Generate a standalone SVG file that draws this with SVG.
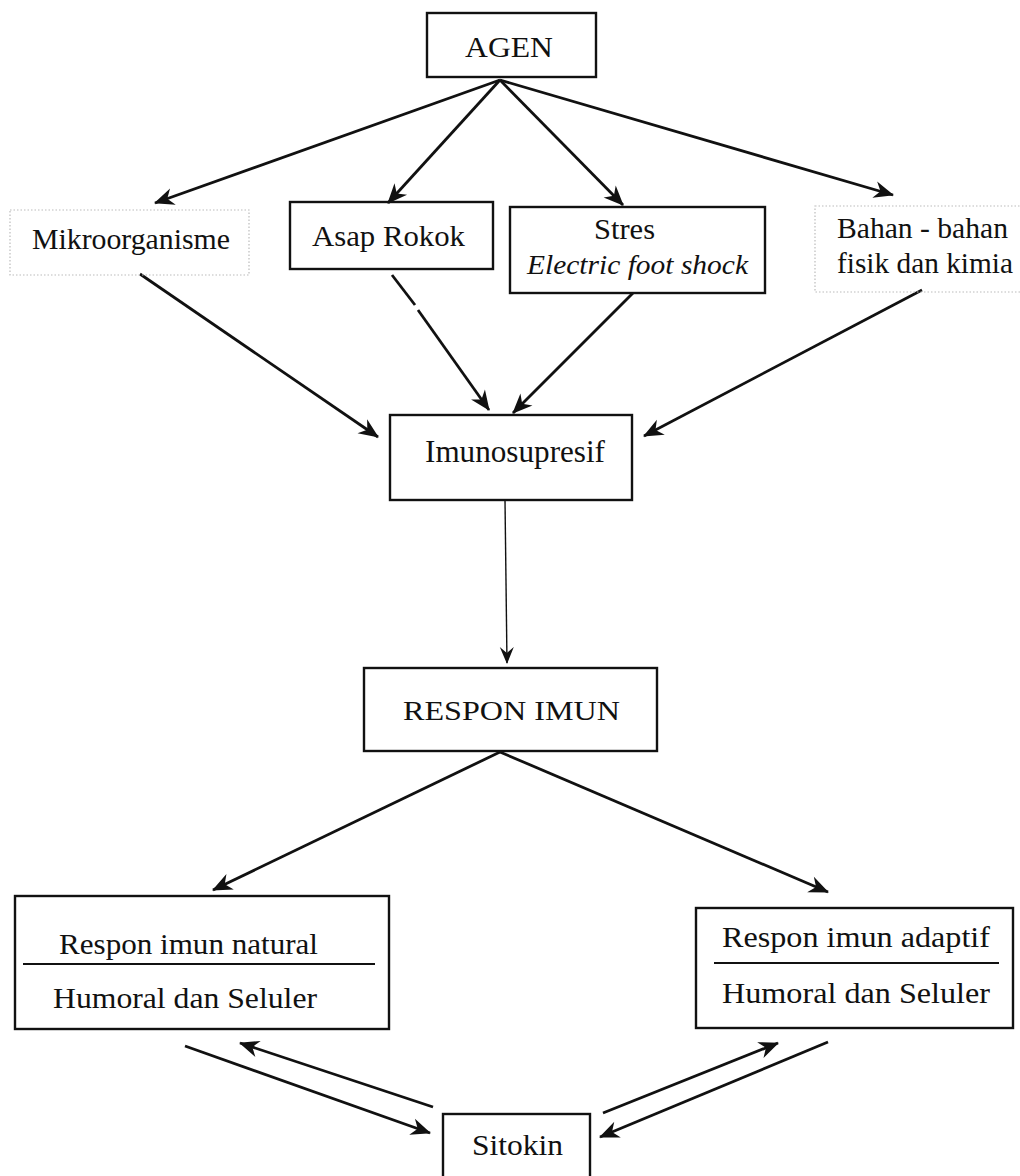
<svg xmlns="http://www.w3.org/2000/svg" width="1020" height="1176" viewBox="0 0 1020 1176">
<style>
.box{fill:none;stroke:#111;stroke-width:2.4}
.dot{fill:none;stroke:#bbb;stroke-width:1.2;stroke-dasharray:1.5 2}
.t{font-family:"Times New Roman","Liberation Serif",Tinos,Times,serif;font-size:30px;fill:#111}
.c{stroke:#111;stroke-width:2.8;fill:none;marker-end:url(#ah)}
.thin{stroke:#111;stroke-width:1.4;fill:none;marker-end:url(#ahs)}
</style>
<defs>
<marker id="ah" viewBox="-22 -11 24 22" refX="0" refY="0" markerWidth="24" markerHeight="22" markerUnits="userSpaceOnUse" orient="auto">
<path d="M1,0 L-19,-8.5 L-13,0 L-19,8.5 Z" fill="#111"/>
</marker>
<marker id="ahs" viewBox="-20 -10 22 20" refX="0" refY="0" markerWidth="22" markerHeight="20" markerUnits="userSpaceOnUse" orient="auto">
<path d="M1,0 L-16,-7 L-10,0 L-16,7 Z" fill="#111"/>
</marker>
</defs>
<rect width="1020" height="1176" fill="#fff"/>
<g id="connectors">
<line class="c" x1="500" y1="80" x2="155" y2="203"/>
<line class="c" x1="500" y1="80" x2="388" y2="203"/>
<line class="c" x1="500" y1="80" x2="623" y2="205"/>
<line class="c" x1="500" y1="80" x2="893" y2="195"/>
<line class="c" x1="140" y1="274" x2="378" y2="437"/>
<line stroke="#111" stroke-width="2.8" x1="392" y1="275" x2="415" y2="305"/>
<line class="c" x1="418" y1="310" x2="489" y2="410"/>
<line class="c" x1="633" y1="293" x2="513" y2="413"/>
<line class="c" x1="922" y1="290" x2="644" y2="436"/>
<line class="thin" x1="505" y1="500" x2="507" y2="663"/>
<line class="c" x1="500" y1="752" x2="213" y2="890"/>
<line class="c" x1="500" y1="752" x2="828" y2="892"/>
<line class="c" x1="185" y1="1046" x2="430" y2="1133"/>
<line class="c" x1="433" y1="1107" x2="240" y2="1043"/>
<line class="c" x1="603" y1="1113" x2="778" y2="1043"/>
<line class="c" x1="828" y1="1042" x2="600" y2="1137"/>
</g>
<g id="agen">
<rect class="box" x="427" y="13" width="169" height="64"/>
<text class="t" x="465" y="57" textLength="88" lengthAdjust="spacingAndGlyphs">AGEN</text>
</g>
<g id="mikroorganisme">
<rect class="dot" x="10" y="210" width="239" height="65"/>
<text class="t" x="32" y="249" textLength="198" lengthAdjust="spacingAndGlyphs">Mikroorganisme</text>
</g>
<g id="asap-rokok">
<rect class="box" x="290" y="202" width="203" height="67"/>
<text class="t" x="312" y="246" textLength="153" lengthAdjust="spacingAndGlyphs">Asap Rokok</text>
</g>
<g id="stres">
<rect class="box" x="510" y="207" width="255" height="86"/>
<text class="t" x="594" y="239" textLength="61" lengthAdjust="spacingAndGlyphs">Stres</text>
<text class="t" x="527" y="274" font-style="italic" style="font-size:27px" textLength="221" lengthAdjust="spacingAndGlyphs">Electric foot shock</text>
</g>
<g id="bahan">
<rect class="dot" x="815" y="206" width="210" height="86"/>
<text class="t" x="837" y="238" textLength="171" lengthAdjust="spacingAndGlyphs">Bahan - bahan</text>
<text class="t" x="837" y="273" textLength="176" lengthAdjust="spacingAndGlyphs">fisik dan kimia</text>
</g>
<g id="imunosupresif">
<rect class="box" x="390" y="415" width="242" height="85"/>
<text class="t" x="425" y="462" style="font-size:31px" textLength="180" lengthAdjust="spacingAndGlyphs">Imunosupresif</text>
</g>
<g id="respon-imun">
<rect class="box" x="364" y="668" width="293" height="83"/>
<text class="t" x="403" y="720" style="font-size:27px" textLength="217" lengthAdjust="spacingAndGlyphs">RESPON IMUN</text>
</g>
<g id="respon-natural">
<rect class="box" x="15" y="896" width="374" height="133"/>
<line stroke="#111" stroke-width="2.2" x1="23" y1="964" x2="375" y2="964"/>
<text class="t" x="59" y="954" textLength="259" lengthAdjust="spacingAndGlyphs">Respon imun natural</text>
<text class="t" x="53" y="1008" textLength="264" lengthAdjust="spacingAndGlyphs">Humoral dan Seluler</text>
</g>
<g id="respon-adaptif">
<rect class="box" x="696" y="908" width="317" height="120"/>
<line stroke="#111" stroke-width="2.2" x1="714" y1="963" x2="999" y2="963"/>
<text class="t" x="722" y="947" textLength="268" lengthAdjust="spacingAndGlyphs">Respon imun adaptif</text>
<text class="t" x="722" y="1003" textLength="268" lengthAdjust="spacingAndGlyphs">Humoral dan Seluler</text>
</g>
<g id="sitokin">
<rect class="box" x="443" y="1114" width="147" height="70"/>
<text class="t" x="472" y="1155" textLength="91" lengthAdjust="spacingAndGlyphs">Sitokin</text>
</g>
</svg>
